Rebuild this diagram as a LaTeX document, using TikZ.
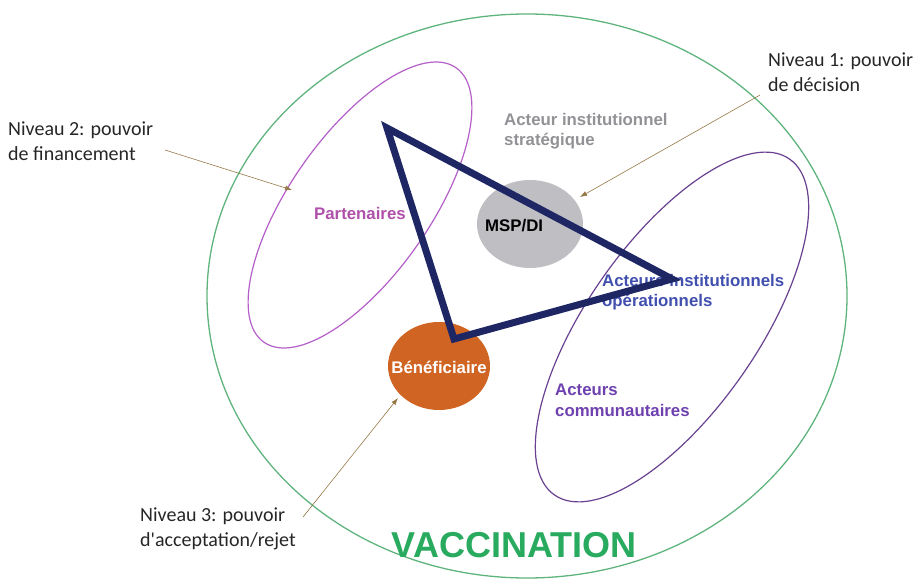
\documentclass[tikz,border=0pt]{standalone}
\usepackage{fontspec}
\setmainfont{Liberation Sans}
\newfontfamily\calfont{Carlito}
\usetikzlibrary{shapes.geometric,arrows.meta}
\definecolor{cgreen}{RGB}{95,180,125}
\definecolor{tgreen}{RGB}{40,170,95}
\definecolor{cpart}{RGB}{180,95,200}
\definecolor{tpart}{RGB}{175,80,170}
\definecolor{cright}{RGB}{105,65,145}
\definecolor{tcomm}{RGB}{110,65,175}
\definecolor{tinst}{RGB}{65,80,175}
\definecolor{cgray}{RGB}{190,190,195}
\definecolor{tgray}{RGB}{145,145,150}
\definecolor{corange}{RGB}{208,100,35}
\definecolor{navy}{RGB}{30,38,100}
\definecolor{carrow}{RGB}{150,120,70}
\tikzset{
  ring/.style={draw, ellipse, inner sep=0pt},
  lbl/.style={font=\bfseries\fontsize{16.8}{20.5}\selectfont, align=left, inner sep=0pt},
  niv/.style={font=\calfont\fontsize{20}{24.5}\selectfont, align=left, inner sep=0pt, text=black!85},
  pointer/.style={draw=carrow, line width=0.6pt, -{Latex[length=7pt,width=5pt]}}
}
\begin{document}
\begin{tikzpicture}[x=1pt,y=-1pt]
\useasboundingbox (0,0) rectangle (916,580);
\node[ring, draw=cgreen, line width=1.3pt, minimum width=640pt, minimum height=564pt] (vacc) at (527,296) {};
\node[ring, draw=cpart, line width=1.2pt, minimum width=335pt, minimum height=140pt, rotate=55] (part) at (360,205) {};
\node[ring, draw=cright, line width=1.2pt, minimum width=410pt, minimum height=170pt, rotate=55] (comm) at (672,327) {};
\node[ellipse, fill=cgray, minimum width=106pt, minimum height=88pt, inner sep=0pt] (msp) at (530,224) {};
\node[ellipse, fill=corange, minimum width=102pt, minimum height=88pt, inner sep=0pt] (benef) at (439,366) {};
\node[lbl, text=black, anchor=west] (msptxt) at (485,226) {MSP/DI};
\node[lbl, text=tinst, anchor=north west] (inst) at (602,274) {Acteurs institutionnels\\op\'erationnels};
\coordinate (tA) at (387,128);
\coordinate (tB) at (672,279);
\coordinate (tC) at (454,339);
\draw[navy, line width=7pt, line join=miter] (tA) -- (tB) -- (tC) -- cycle;
\node[lbl, text=tgray, anchor=north west] (strat) at (504,113) {Acteur institutionnel\\strat\'egique};
\node[lbl, text=tpart, anchor=west] (parttxt) at (314,213) {Partenaires};
\node[lbl, text=white] (beneftxt) at (439,367) {B\'en\'eficiaire};
\node[lbl, text=tcomm, anchor=north west] (commtxt) at (555,384) {Acteurs\\communautaires};
\node[font=\bfseries\fontsize{36}{40}\selectfont, text=tgreen, inner sep=0pt] (vacctxt) at (514,545) {VACCINATION};
\node[niv, anchor=north west] (n2) at (8,122) {Niveau 2: pouvoir\\de financement};
\node[niv, anchor=north west] (n1) at (768,53) {Niveau 1: pouvoir\\de d\'ecision};
\node[niv, anchor=north west] (n3) at (140,508) {Niveau 3: pouvoir\\d'acceptation/rejet};
\coordinate (p2s) at (165,150);
\coordinate (p2e) at (292,190);
\coordinate (p1s) at (760,95);
\coordinate (p1e) at (580,197);
\coordinate (p3s) at (303,517);
\coordinate (p3e) at (398,398);
\draw[pointer] (p2s) -- (p2e);
\draw[pointer] (p1s) -- (p1e);
\draw[pointer] (p3s) -- (p3e);
\end{tikzpicture}
\end{document}
